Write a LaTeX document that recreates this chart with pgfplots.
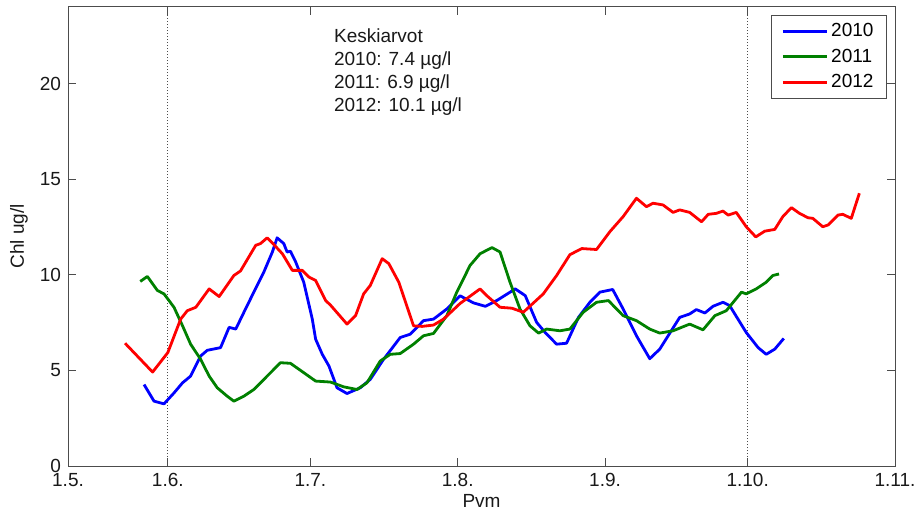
\documentclass[border=0pt]{standalone}
\usepackage{fontspec}
\setmainfont{Liberation Sans}
\usepackage{pgfplots}
\pgfplotsset{compat=1.18}

% 1 px of the reference = 0.5pt
\definecolor{mblue}{RGB}{0,0,255}
\definecolor{mgreen}{RGB}{0,128,0}
\definecolor{mred}{RGB}{255,0,0}

\begin{document}
\begin{tikzpicture}
\useasboundingbox (-34pt,-26.5pt) rectangle (425.5pt,233pt);
\begin{axis}[
  scale only axis,
  width=413.5pt, height=229.5pt,
  xmin=-21, xmax=153,
  ymin=0, ymax=24,
  xtick={-21,0,30,61,92,122,153},
  xticklabels={1.5.,1.6.,1.7.,1.8.,1.9.,1.10.,1.11.},
  ytick={0,5,10,15,20},
  tick align=inside,
  major tick length=4pt,
  axis line style={black!70, line width=0.5pt},
  every tick/.style={black!70, line width=0.5pt},
  /pgf/number format/assume math mode=true,
  tick label style={font=\fontsize{9.5}{11}\selectfont, text=black!90},
  label style={font=\fontsize{9.5}{11}\selectfont, text=black!90},
  xlabel={Pvm},
  ylabel={Chl ug/l},
  xlabel style={at={(axis description cs:0.5,-0.076)}, anchor=center},
  ylabel style={at={(axis description cs:-0.0593,0.5)}, anchor=center},
  legend style={at={(axis description cs:0.9903,0.9826)}, anchor=north east,
    draw=black!70, line width=0.5pt, fill=white,
    font=\fontsize{9.5}{11}\selectfont,
    inner xsep=5pt, inner ysep=2.5pt, row sep=1.5pt,
    nodes={inner sep=1.5pt}},
  legend cell align=left,
  legend image code/.code={\draw[#1, line width=1.4pt] (0pt,0pt) -- (22pt,0pt);},
  clip=false,
]
% dotted markers at 1.6. and 1.10.
\addplot[black!70, densely dotted, line width=0.5pt, forget plot] coordinates {(0,0) (0,24)};
\addplot[black!70, densely dotted, line width=0.5pt, forget plot] coordinates {(122,0) (122,24)};

% 2010
\addplot[mblue, line width=1.4pt, line join=round] coordinates {
(-5.0,4.26) (-2.9,3.39) (-0.8,3.25) (1.3,3.82) (3.1,4.35) (4.8,4.7) (6.9,5.75) (8.3,6.05)
(11.1,6.19) (12.9,7.25) (14.3,7.16) (16.7,8.39) (20.2,10.14) (22.0,11.19) (23.0,11.93)
(24.4,11.63) (25.1,11.19) (25.8,11.23) (26.9,10.67) (28.6,9.61) (30.4,7.68) (31.1,6.63)
(32.5,5.84) (33.9,5.23) (35.6,4.09) (37.7,3.79) (40.5,4.09) (42.6,4.53) (45.4,5.58)
(48.9,6.72) (51.0,6.89) (53.8,7.6) (55.9,7.68) (58.7,8.21) (61.5,8.9) (64.3,8.53)
(66.8,8.35) (69.2,8.65) (73.1,9.26) (75.2,8.91) (77.6,7.51) (79.4,6.98) (81.8,6.37)
(83.9,6.42) (86.4,7.77) (88.8,8.56) (90.9,9.09) (93.6,9.23) (95.8,8.21) (98.6,6.81)
(101.4,5.61) (103.5,6.11) (107.7,7.77) (109.8,7.95) (111.2,8.18) (113.0,8.0) (114.7,8.35)
(116.8,8.56) (118.2,8.39) (121.7,6.98) (124.2,6.19) (125.9,5.84) (127.7,6.11) (129.6,6.67)
};
\addlegendentry{2010}

% 2011
\addplot[mgreen, line width=1.4pt, line join=round] coordinates {
(-5.8,9.65) (-4.3,9.91) (-2.2,9.18) (-0.8,9.0) (1.3,8.3) (3.1,7.33) (4.8,6.37) (6.9,5.58)
(8.7,4.7) (10.4,4.09) (12.5,3.65) (13.9,3.39) (16.0,3.65) (18.1,4.0) (20.9,4.7) (23.7,5.4)
(25.8,5.37) (28.6,4.88) (31.1,4.44) (34.2,4.39) (37.0,4.14) (39.8,4.0) (41.9,4.35)
(44.7,5.49) (46.8,5.84) (48.9,5.88) (51.7,6.37) (53.8,6.81) (55.9,6.93) (58.7,7.86)
(60.8,9.09) (63.6,10.49) (65.7,11.1) (68.2,11.42) (69.9,11.19) (72.0,9.61) (74.1,8.21)
(76.2,7.33) (78.0,6.95) (79.7,7.16) (82.5,7.07) (84.6,7.16) (87.4,8.04) (90.2,8.56)
(92.7,8.65) (95.8,7.86) (98.6,7.6) (101.4,7.16) (103.5,6.95) (106.3,7.07) (109.8,7.42)
(112.6,7.12) (115.1,7.86) (117.5,8.12) (120.7,9.09) (121.7,9.0) (123.8,9.26) (125.9,9.61)
(127.3,9.96) (128.6,10.04)
};
\addlegendentry{2011}

% 2012
\addplot[mred, line width=1.4pt, line join=round] coordinates {
(-9.0,6.42) (-3.2,4.91) (0,5.93) (2.7,7.68) (4.1,8.12) (5.9,8.3) (8.7,9.26) (10.8,8.86)
(13.9,9.96) (15.3,10.2) (18.5,11.54) (19.5,11.63) (20.9,11.93) (22.3,11.58) (24.1,11.1)
(26.2,10.23) (28.3,10.23) (29.7,9.88) (31.1,9.7) (33.2,8.65) (34.2,8.42) (37.7,7.42)
(39.5,7.86) (41.2,9.0) (42.6,9.44) (45.1,10.84) (46.5,10.58) (48.6,9.61) (51.7,7.33)
(53.5,7.3) (55.9,7.37) (58.0,7.68) (61.5,8.5) (65.7,9.26) (67.1,8.91) (69.9,8.3)
(72.4,8.25) (74.8,8.04) (79.0,9.0) (81.8,9.96) (84.6,11.05) (87.1,11.37) (90.2,11.32)
(93.0,12.25) (95.8,13.04) (98.6,14.0) (100.7,13.56) (102.1,13.74) (104.2,13.65)
(106.3,13.26) (107.7,13.39) (109.8,13.26) (112.3,12.77) (113.7,13.16) (115.4,13.21)
(116.8,13.33) (117.9,13.12) (119.6,13.26) (121.7,12.51) (123.7,11.98) (125.6,12.28)
(127.7,12.37) (129.4,13.04) (131.2,13.51) (132.9,13.21) (134.7,12.98) (135.7,12.95)
(137.8,12.51) (138.9,12.6) (141.0,13.12) (142.0,13.16) (143.8,12.95) (145.5,14.26)
};
\addlegendentry{2012}

\node[anchor=north west, align=left, inner sep=0pt,
      font=\fontsize{9.5}{11.5}\selectfont, text=black!90]
  at (axis cs:34.9,22.9)
  {Keskiarvot\\2010: 7.4 µg/l\\2011: 6.9 µg/l\\2012: 10.1 µg/l};
\end{axis}
\end{tikzpicture}
\end{document}
